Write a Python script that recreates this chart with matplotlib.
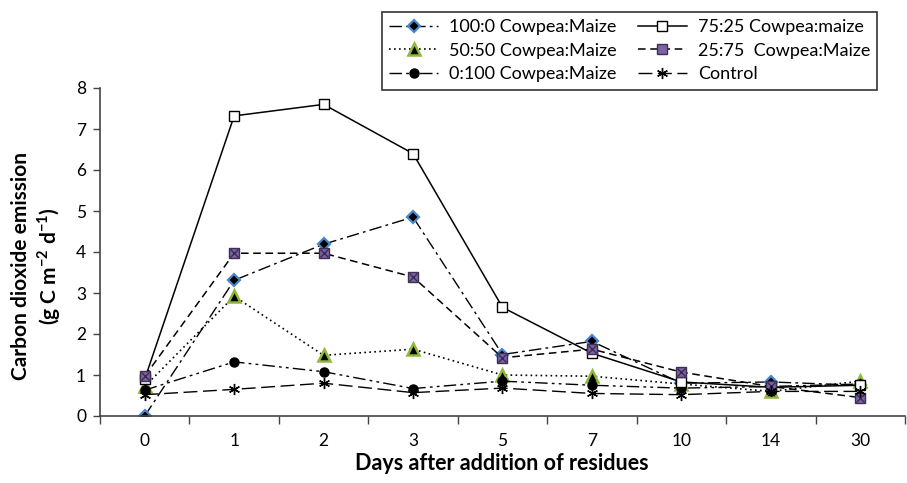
"""CO2 emission after residue addition - line chart recreation."""
import matplotlib
matplotlib.use("Agg")
import matplotlib.pyplot as plt
import numpy as np

plt.rcParams["font.family"] = ["Lato", "DejaVu Sans"]
plt.rcParams["mathtext.fontset"] = "custom"
plt.rcParams["mathtext.rm"] = "Lato:bold"
plt.rcParams["mathtext.bf"] = "Lato:bold"

days = ["0", "1", "2", "3", "5", "7", "10", "14", "30"]
cp100 = [0.0, 3.31, 4.19, 4.85, 1.50, 1.82, 0.80, 0.83, 0.75]
cp75 = [0.90, 7.32, 7.60, 6.40, 2.65, 1.53, 0.83, 0.70, 0.75]
cp50 = [0.72, 2.92, 1.48, 1.63, 1.00, 0.97, 0.78, 0.60, 0.85]
cp25 = [0.97, 3.97, 3.97, 3.39, 1.42, 1.63, 1.07, 0.72, 0.45]
cp0 = [0.63, 1.32, 1.08, 0.67, 0.85, 0.75, 0.68, 0.72, 0.78]
control = [0.52, 0.65, 0.80, 0.57, 0.68, 0.55, 0.52, 0.60, 0.60]

BLUE = "#4a86cf"
GREEN = "#8fb83a"
PURPLE = "#7d63a3"

fig = plt.figure(figsize=(9.07, 4.83), dpi=100)
ax = fig.add_axes([100 / 907, 1 - 416 / 483, 805 / 907, 328 / 483])
x = np.arange(len(days))

h100, = ax.plot(x, cp100, color="black", lw=1.0, ls=(0, (9, 3, 2, 3)),
                marker="D", ms=6.5, mfc="black", mec=BLUE, mew=1.6,
                label="100:0 Cowpea:Maize")
h50, = ax.plot(x, cp50, color="black", lw=1.2, ls=(0, (1, 2)),
               marker="^", ms=8, mfc="black", mec=GREEN, mew=1.8,
               label="50:50 Cowpea:Maize")
h0, = ax.plot(x, cp0, color="black", lw=1.0, ls=(0, (9, 3, 2, 3, 2, 3)),
              marker="o", ms=6.5, mfc="black", mec="black",
              label="0:100 Cowpea:Maize")
h75, = ax.plot(x, cp75, color="black", lw=1.1, ls="-",
               marker="s", ms=7.5, mfc="white", mec="black", mew=1.0,
               label="75:25 Cowpea:maize")
h25, = ax.plot(x, cp25, color="black", lw=1.1, ls=(0, (5, 3)),
               marker="s", ms=7.5, mfc=PURPLE, mec="#3c3050", mew=1.0,
               label="25:75  Cowpea:Maize")
ax.plot(x, cp25, ls="none", marker="x", ms=6, mec="#3a2a55", mew=1.0)
hc, = ax.plot(x, control, color="black", lw=1.0, ls=(0, (10, 4)),
              marker=(6, 2, 0), ms=8, mec="black", mew=1.0,
              label="Control")

ax.set_xlim(-0.5, len(days) - 0.5)
ax.set_ylim(0, 8)
ax.set_xticks(x)
ax.set_xticklabels(days)
ax.set_xticks(np.arange(-0.5, len(days)), minor=True)
ax.tick_params(axis="x", which="major", length=0, pad=12, labelsize=12.5)
ax.tick_params(axis="x", which="minor", length=6, width=1.0, color="#444444")
ax.set_yticks(range(0, 9))
ax.tick_params(axis="y", length=5, width=1.0, color="#444444", pad=5,
               labelsize=12.5)
for s in ["top", "right"]:
    ax.spines[s].set_visible(False)
for s in ["left", "bottom"]:
    ax.spines[s].set_color("#444444")
    ax.spines[s].set_linewidth(1.2)

fig.text(37 / 907, 1 - 266 / 483,
         "Carbon dioxide emission\n(g C m$^{-2}$ d$^{-1}$)",
         rotation=90, ha="center", va="center", multialignment="center",
         fontsize=15, fontweight="bold", linespacing=1.2)
fig.text(502 / 907, 1 - 463 / 483, "Days after addition of residues",
         ha="center", va="center", fontsize=15.5, fontweight="bold")

leg = fig.legend(handles=[h100, h50, h0, h75, h25, hc], ncol=2,
                 loc="upper left", bbox_to_anchor=(382 / 907, 1 - 12 / 483),
                 fontsize=13, frameon=True, fancybox=False,
                 handlelength=2.7, handletextpad=0.6, columnspacing=1.2,
                 labelspacing=0.42, borderpad=0.4, borderaxespad=0)
leg.get_frame().set_edgecolor("black")
leg.get_frame().set_linewidth(1.2)

fig.savefig("out.png", dpi=100)
